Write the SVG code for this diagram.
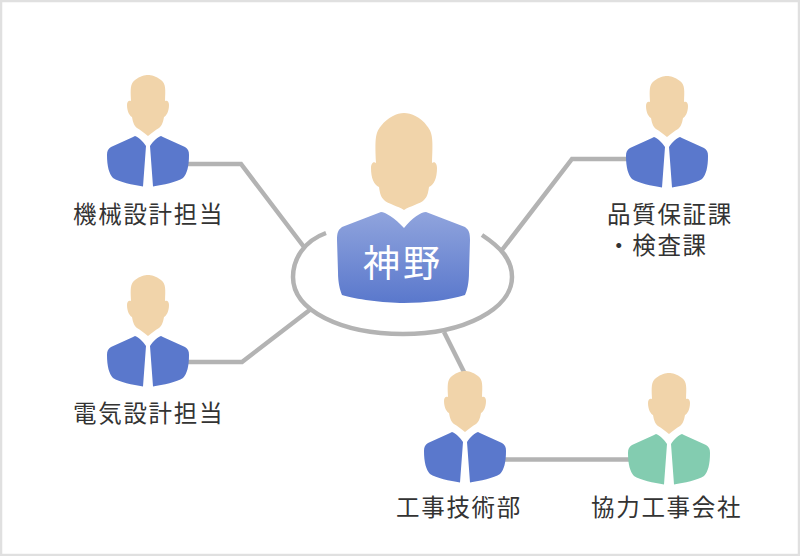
<svg xmlns="http://www.w3.org/2000/svg" xmlns:xlink="http://www.w3.org/1999/xlink" width="800" height="556" viewBox="0 0 800 556">
<style>
.lbl{font-family:"Noto Sans CJK JP","Noto Sans",sans-serif;font-size:23.5px;font-weight:400;fill:#333;letter-spacing:1.7px}
.con{fill:none;stroke:#b3b3b3;stroke-width:4.500;stroke-linejoin:miter}
.skin{fill:#f1d4aa}
.blue{fill:#5a78cc}
.green{fill:#83ccb0}
</style>
<defs>
<linearGradient id="suit" x1="0" y1="0" x2="0" y2="1"><stop offset="0" stop-color="#90a4dd"/><stop offset="1" stop-color="#5a78cc"/></linearGradient>
<path id="head" d="M-17 26C-17.500 14-18 9-13 5C-8 1-3 0 0 0C3 0 8 1 13 5C18 9 17.500 14 17 26C19.500 25 21 27 21 30C21 36 18.500 41 16 42C15 48 13.500 51 11 53C7 55 4 58 0 61C-4 58-7 55-11 53C-13.500 51-15 48-16 42C-18.500 41-21 36-21 30C-21 27-19.500 25-17 26Z"/>
<path id="bodyL" d="M-13 61C-10 62-5 66-2 71L-5 111.500C-15 110-29 107-35 103C-39 99-41 91-41 80C-41 76-40 74-37 72L-16 62.500Z"/>
<path id="bodyR" d="M13 61C10 62 5 66 2 71L5 111.500C15 110 29 107 35 103C39 99 41 91 41 80C41 76 40 74 37 72L16 62.500Z"/>
</defs>
<rect x="1" y="1" width="798" height="554" fill="#fff" stroke="#e0e0e0" stroke-width="2.500"/>
<g id="connectors">
<path class="con" d="M186 164H241L304 247"/>
<path class="con" d="M186 362H242L311 309"/>
<path class="con" d="M628 159H572L502 250"/>
<path class="con" d="M444 332L465 374"/>
<path class="con" d="M503 459.500H632"/>
<path class="con" d="M326 233C304 241 293 259 293 277C293 311 342 334 403 334C464 334 512 309 512 277C512 259 500 247 482 235"/>
</g>
<g id="node-kanno">
<path class="skin" d="M376 163C375 140 375 133 381 126C388 117 397 113 404 113C411 113 421 117 427 126C433 133 433 140 432 163C435 161 437 164 437 168C437 178 434 185 429 187C428 194 427 197 424 200C420 204 410 206 404 210C398 206 388 204 384 200C381 197 380 194 379 187C374 185 371 178 371 168C371 164 373 161 376 163Z"/>
<path fill="url(#suit)" d="M381 212C385 212 395 218 404 228C412 218 421 212 426 212L465 227C469 230 470 233 470 240L469 272C469 283 467 291 465 295C450 300 425 303 404 303C383 303 355 299 342 295C340 290 338 283 338 272L337 240C337 233 338 230 342 227Z"/>
<text x="403" y="277" text-anchor="middle" font-family="'Noto Sans CJK JP','Noto Sans',sans-serif" font-size="37" font-weight="400" fill="#fff" letter-spacing="3">神野</text>
</g>
<g id="node-kikai">
<use xlink:href="#head" class="skin" x="148" y="75"/><use xlink:href="#bodyL" class="blue" x="148" y="75"/><use xlink:href="#bodyR" class="blue" x="148" y="75"/>
<text class="lbl" x="73" y="223">機械設計担当</text>
</g>
<g id="node-denki">
<use xlink:href="#head" class="skin" x="148" y="275"/><use xlink:href="#bodyL" class="blue" x="148" y="275"/><use xlink:href="#bodyR" class="blue" x="148" y="275"/>
<text class="lbl" x="73" y="422">電気設計担当</text>
</g>
<g id="node-hinshitsu">
<use xlink:href="#head" class="skin" x="667" y="76"/><use xlink:href="#bodyL" class="blue" x="667" y="76"/><use xlink:href="#bodyR" class="blue" x="667" y="76"/>
<text class="lbl" x="607" y="223">品質保証課</text>
<text class="lbl" x="607" y="254">・検査課</text>
</g>
<g id="node-koji">
<use xlink:href="#head" class="skin" x="465" y="371"/><use xlink:href="#bodyL" class="blue" x="465" y="371"/><use xlink:href="#bodyR" class="blue" x="465" y="371"/>
<text class="lbl" x="396" y="516">工事技術部</text>
</g>
<g id="node-kyoryoku">
<use xlink:href="#head" class="skin" x="669" y="373"/><use xlink:href="#bodyL" class="green" x="669" y="373"/><use xlink:href="#bodyR" class="green" x="669" y="373"/>
<text class="lbl" x="591" y="516">協力工事会社</text>
</g>
</svg>
